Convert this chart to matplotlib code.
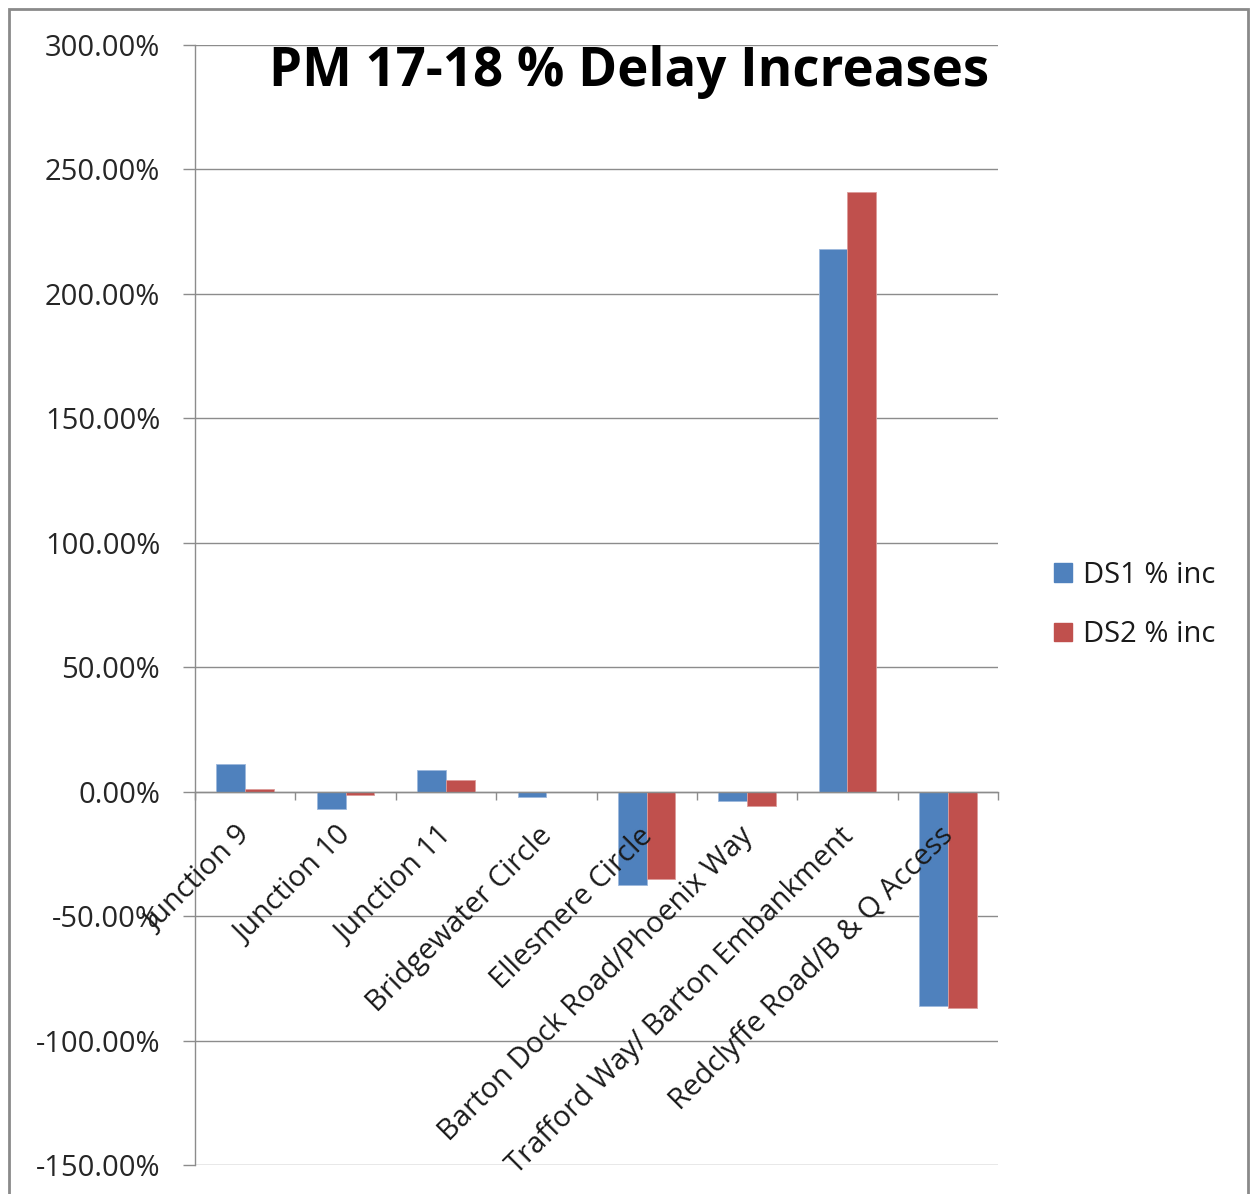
import matplotlib
matplotlib.use("Agg")
import matplotlib.pyplot as plt
from matplotlib.patches import Rectangle, Patch
from matplotlib.ticker import FuncFormatter, FixedLocator

plt.rcParams['font.family'] = ['Open Sans', 'DejaVu Sans']

categories = ["Junction 9", "Junction 10", "Junction 11", "Bridgewater Circle",
              "Ellesmere Circle", "Barton Dock Road/Phoenix Way",
              "Trafford Way/ Barton Embankment", "Redclyffe Road/B & Q Access"]
ds1 = [11.3, -7.1, 8.9, -2.3, -37.6, -3.9, 217.9, -86.2]
ds2 = [0.9, -1.5, 4.7, 0.0, -35.2, -5.9, 240.9, -86.9]
series_names = ["DS1 % inc", "DS2 % inc"]
y_ticks = [-150, -100, -50, 0, 50, 100, 150, 200, 250, 300]
title = "PM 17-18 % Delay Increases"

blue = "#4F81BD"
red = "#C0504D"
grid_c = "#8C8C8C"

W, H = 1250, 1194
fig = plt.figure(figsize=(W / 100, H / 100), dpi=100)
ax = fig.add_axes([195 / W, 1 - 1165 / H, (998 - 195) / W, (1165 - 45) / H])

n = len(categories)
x = list(range(n))
bw = 0.286
ax.bar([i - bw / 2 for i in x], ds1, width=bw, color=blue, edgecolor="#9DB8DC",
       linewidth=0.6, zorder=3)
ax.bar([i + bw / 2 for i in x], ds2, width=bw, color=red, edgecolor="#DC9C9A",
       linewidth=0.6, zorder=3)

ax.set_xlim(-0.5, n - 0.5)
ax.set_ylim(y_ticks[0], y_ticks[-1])
ax.yaxis.set_major_locator(FixedLocator(y_ticks))
ax.yaxis.set_major_formatter(FuncFormatter(lambda v, p: f"{v:.2f}%"))
ax.grid(axis="y", color=grid_c, linewidth=1.0, zorder=0)
ax.set_axisbelow(True)

for s in ("top", "right"):
    ax.spines[s].set_visible(False)
ax.spines["left"].set_color(grid_c)
ax.spines["left"].set_linewidth(1.0)
ax.spines["bottom"].set_position(("data", 0))
ax.spines["bottom"].set_color(grid_c)
ax.spines["bottom"].set_linewidth(1.0)
ax.spines["bottom"].set_zorder(4)

ax.set_xticks([i - 0.5 for i in range(n + 1)])
ax.set_xticklabels([])
ax.tick_params(axis="x", direction="out", length=6, width=1.0, color=grid_c)
ax.tick_params(axis="y", direction="out", length=9, width=1.0, color=grid_c,
               labelsize=21, labelcolor="#262626", pad=16)

for i, lab in enumerate(categories):
    ax.annotate(lab, xy=(i, 0), xycoords="data", xytext=(1, -29),
                textcoords="offset points", rotation=45, rotation_mode="anchor",
                ha="right", va="center", fontsize=21, color="#1a1a1a",
                annotation_clip=False, zorder=5)

fig.text(629 / W, 1 - 72 / H, title, ha="center", va="center",
         fontsize=38, fontweight="bold", color="black")

handles = [Patch(facecolor=blue, edgecolor=blue), Patch(facecolor=red, edgecolor=red)]
fig.legend(handles, series_names, loc="center left",
           bbox_to_anchor=(1028 / W, 1 - 605 / H), frameon=False,
           fontsize=21, handlelength=0.6, handleheight=0.6, handletextpad=0.4,
           labelspacing=1.05, labelcolor="#1a1a1a")

fig.patches.append(Rectangle((9 / W, -0.05), (1248 - 9) / W, 1 - 9 / H + 0.05,
                             transform=fig.transFigure, fill=False,
                             edgecolor="#8A8A8A", linewidth=2.0))

fig.savefig("out.png", dpi=100, facecolor="white")
